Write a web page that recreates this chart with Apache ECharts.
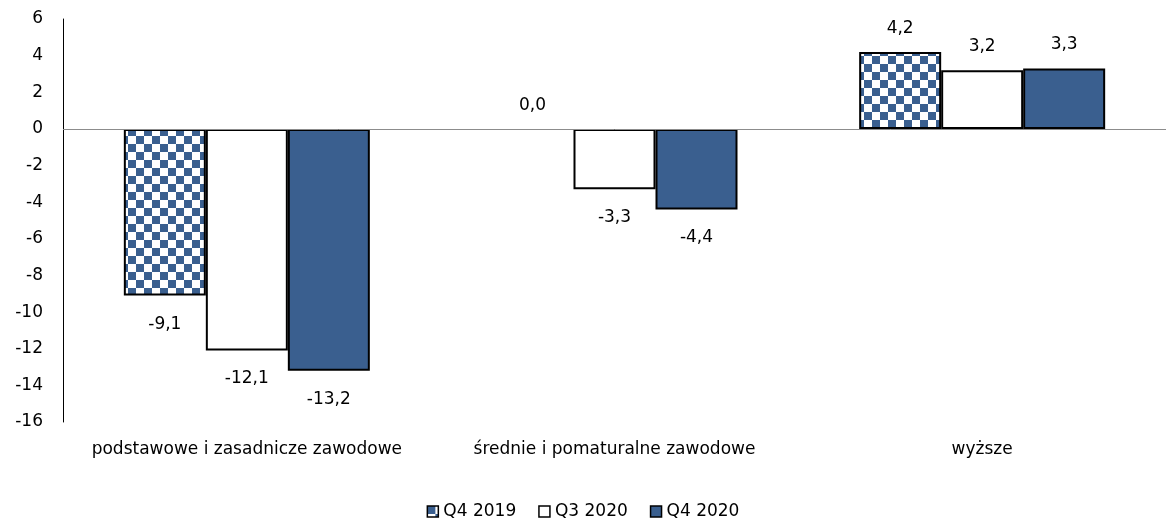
<!DOCTYPE html>
<html>
<head>
<meta charset="utf-8">
<script src="https://cdn.jsdelivr.net/npm/echarts@6/dist/echarts.min.js"></script>
<style>
  html, body { margin: 0; padding: 0; background: #fff; }
  #chart { width: 1166px; height: 525px; }
</style>
</head>
<body>
<div id="chart"></div>
<script>
const categories = ['podstawowe i zasadnicze zawodowe', 'średnie i pomaturalne zawodowe', 'wyższe']
const seriesNames = ['Q4 2019', 'Q3 2020', 'Q4 2020']
const q42019 = [-9.1, 0.0, 4.2]
const q32020 = [-12.1, -3.3, 3.2]
const q42020 = [-13.2, -4.4, 3.3]

const blue = '#3A5F8F'
const font = 'DejaVu Sans'

// checkered fill for Q4 2019
const makeChecker = () => {
  const c = document.createElement('canvas')
  c.width = 16
  c.height = 16
  const ctx = c.getContext('2d')
  ctx.fillStyle = '#fff'
  ctx.fillRect(0, 0, 16, 16)
  ctx.fillStyle = blue
  ctx.fillRect(0, 0, 8, 8)
  ctx.fillRect(8, 8, 8, 8)
  return c
}
const checker = { image: makeChecker(), repeat: 'repeat' }

const fmt = (p) => p.value.toFixed(1).replace('.', ',')

const makeSeries = (name, data, fill) => ({
  name: name,
  type: 'bar',
  barWidth: 82,
  barGap: '0%',
  data: data.map((v) => ({
    value: v,
    label: { position: v < 0 ? 'bottom' : 'top', distance: v < 0 ? 20 : 15 },
    itemStyle: v === 0 ? { borderWidth: 0 } : undefined,
  })),
  itemStyle: { color: fill, borderColor: '#000', borderWidth: 2 },
  label: {
    show: true,
    formatter: fmt,
    fontFamily: font,
    fontSize: 17,
    color: '#000',
  },
})

const chart = echarts.init(document.getElementById('chart'))

const series = [
  makeSeries(seriesNames[0], q42019, checker),
  makeSeries(seriesNames[1], q32020, '#fff'),
  makeSeries(seriesNames[2], q42020, blue),
]
series[2].markLine = {
  silent: true,
  symbol: 'none',
  label: { show: false },
  lineStyle: { color: '#8c8c8c', type: 'solid', width: 1 },
  data: [{ yAxis: 0 }],
}

chart.setOption({
  animation: false,
  grid: { left: 63, right: 0, top: 19, bottom: 103 },
  legend: {
    data: seriesNames,
    bottom: 0,
    left: 'center',
    itemWidth: 11,
    itemHeight: 11,
    itemGap: 22,
    icon: 'rect',
    textStyle: { fontFamily: font, fontSize: 17, color: '#000' },
    itemStyle: { borderColor: '#000', borderWidth: 1.5 },
  },
  xAxis: {
    type: 'category',
    data: categories,
    axisLine: { show: false },
    axisTick: { show: false },
    axisLabel: { fontFamily: font, fontSize: 17, color: '#000', margin: 19, interval: 0 },
  },
  yAxis: {
    type: 'value',
    min: -16,
    max: 6,
    interval: 2,
    axisLine: { show: true, lineStyle: { color: '#000', width: 1 } },
    axisTick: { show: false },
    splitLine: { show: false },
    axisLabel: { fontFamily: font, fontSize: 17, color: '#000', margin: 20 },
  },
  series: series,
})
</script>
</body>
</html>
